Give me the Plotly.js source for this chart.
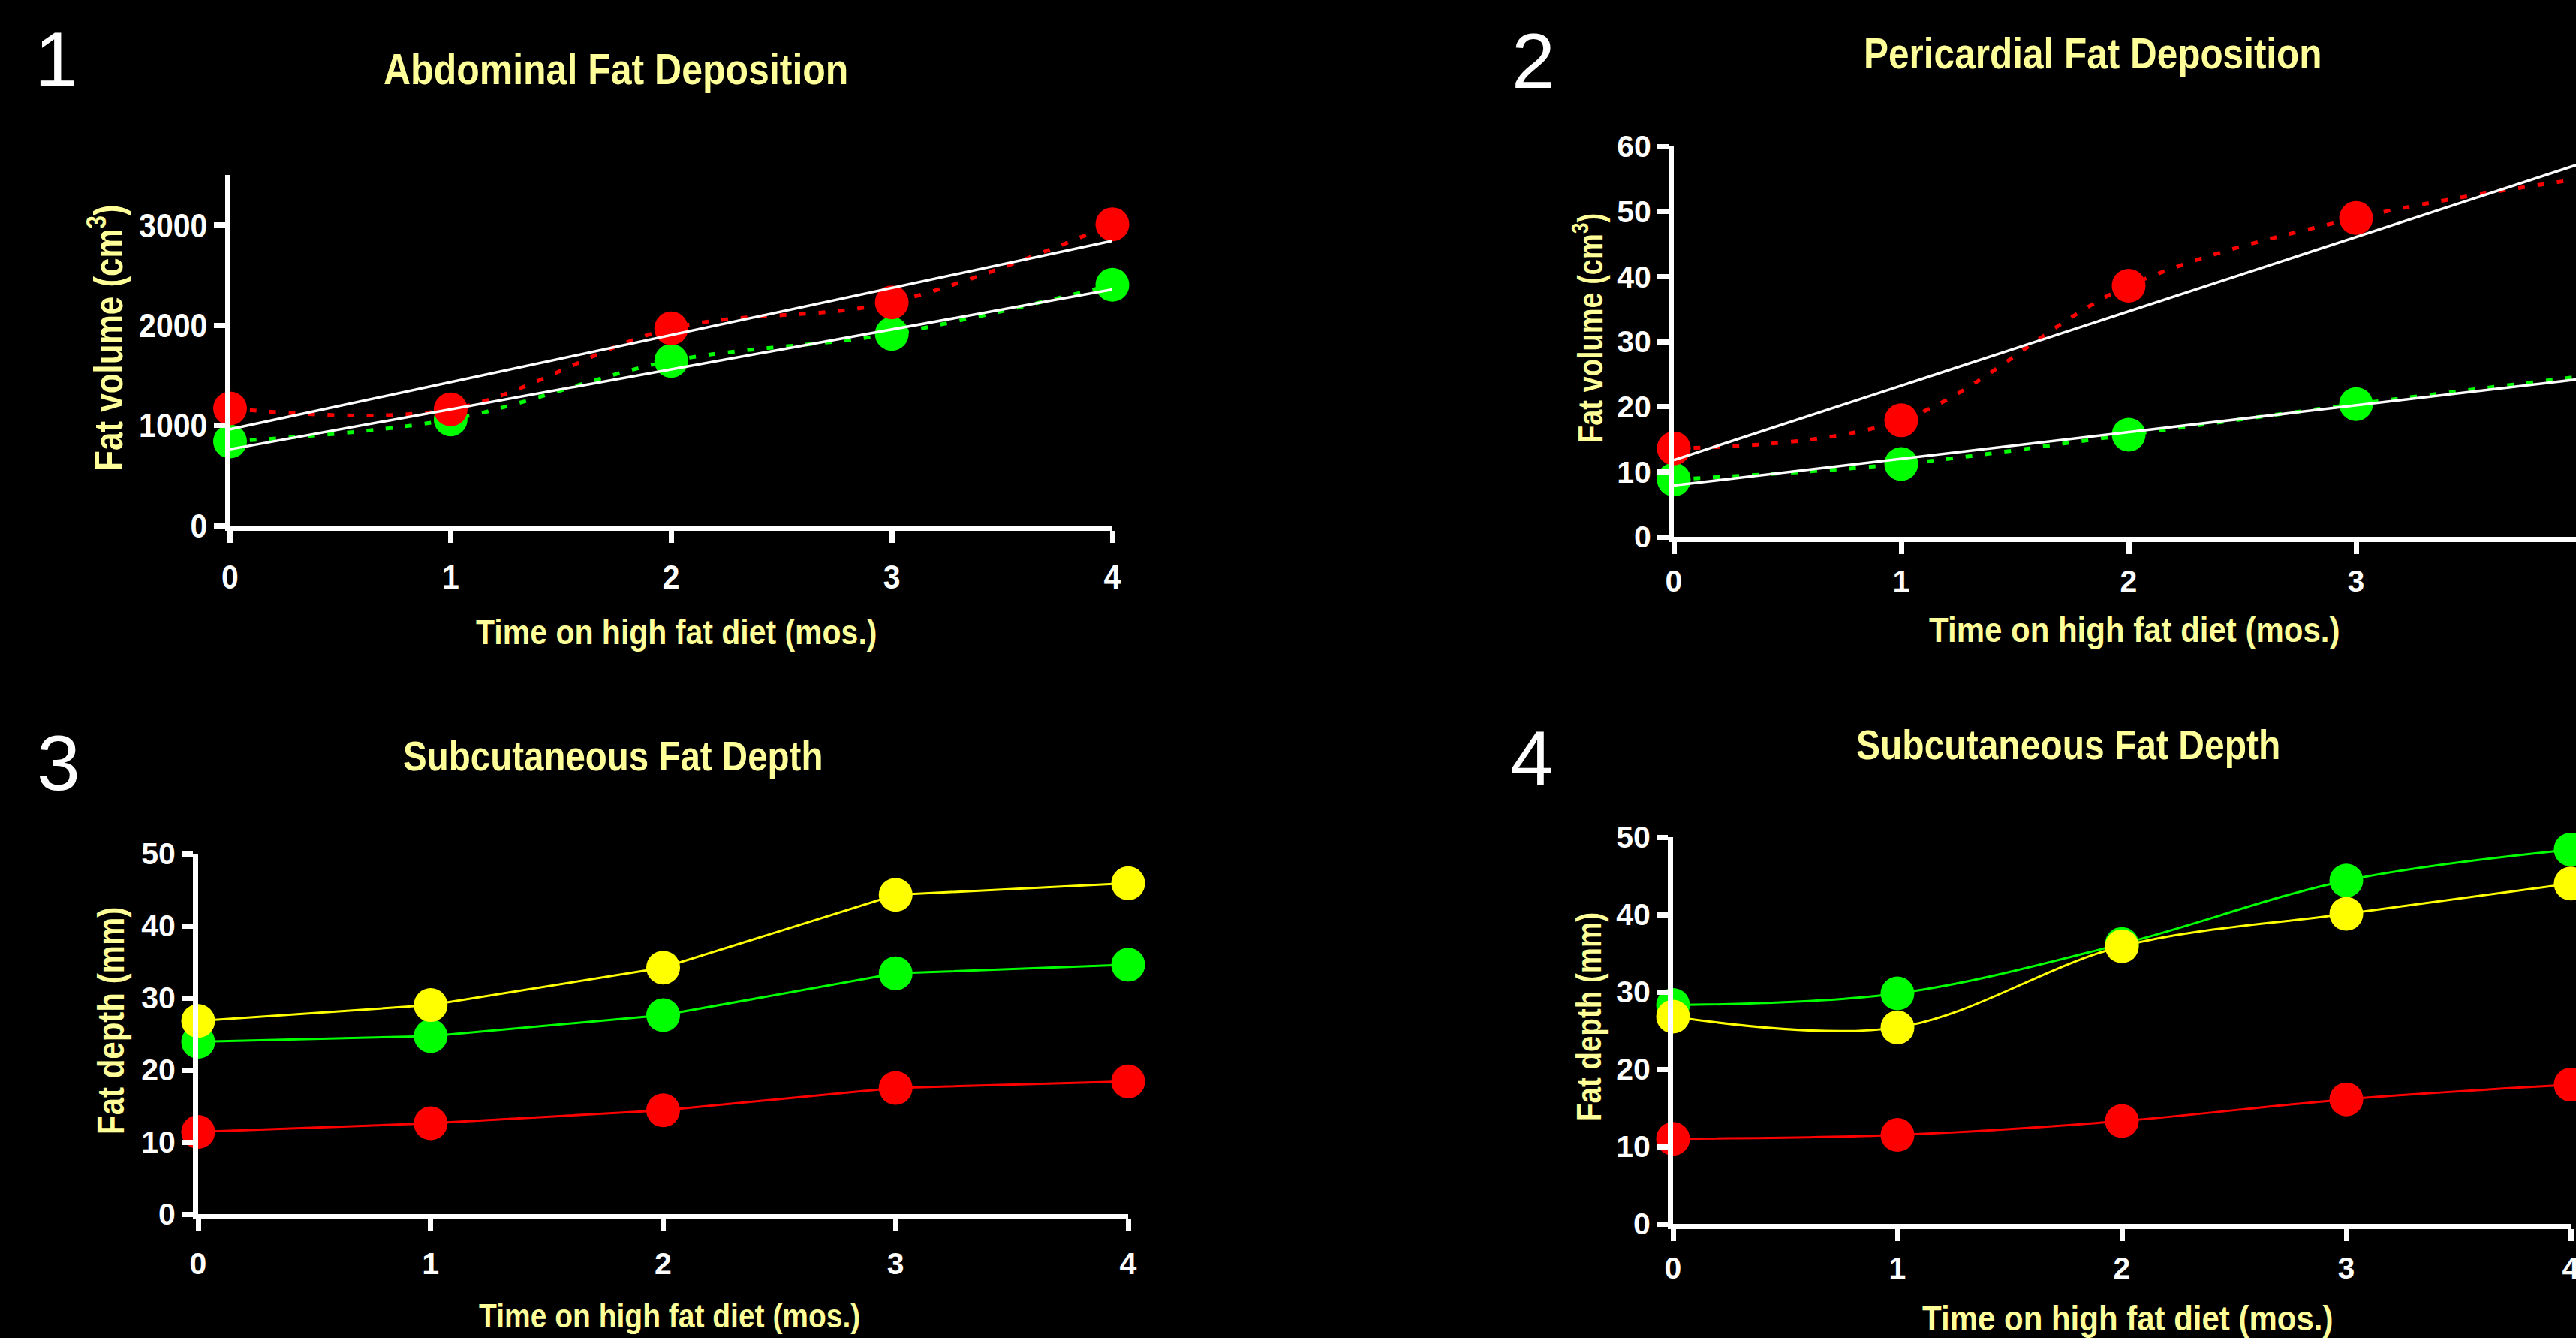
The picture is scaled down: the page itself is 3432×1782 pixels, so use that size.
<!DOCTYPE html>
<html>
<head>
<meta charset="utf-8">
<script src="https://cdn.plot.ly/plotly-3.0.1.min.js"></script>
<style>
html,body{margin:0;padding:0;background:#000;overflow:hidden}
#chart{width:3432px;height:1782px}
</style>
</head>
<body>
<div id="chart"></div>
<script>
// ---------------- DATA ----------------
const months = [0, 1, 2, 3, 4];
const monthLabels = ['0', '1', '2', '3', '4'];
const fitMonths = [0, 4];

// Panel 1 – Abdominal fat deposition (cm^3)
const abdominalRed = [1170, 1160, 1970, 2230, 3010];
const abdominalGreen = [840, 1060, 1645, 1915, 2405];
const abdominalRedFit = [962, 2845];
const abdominalGreenFit = [762, 2358];

// Panel 2 – Pericardial fat deposition (cm^3)
const pericardialRed = [13.6, 17.9, 38.6, 49.0, 55.1];
const pericardialGreen = [8.8, 11.2, 15.7, 20.4, 24.7];
const pericardialRedFit = [11.8, 57.5];
const pericardialGreenFit = [7.9, 24.3];

// Panel 3 – Subcutaneous fat depth (mm)
const subcut3Yellow = [26.8, 29.0, 34.2, 44.3, 45.9];
const subcut3Green = [23.9, 24.7, 27.6, 33.4, 34.6];
const subcut3Red = [11.4, 12.6, 14.4, 17.5, 18.4];

// Panel 4 – Subcutaneous fat depth (mm)
const subcut4Green = [28.3, 29.8, 36.2, 44.4, 48.4];
const subcut4Yellow = [26.8, 25.4, 35.9, 40.1, 44.0];
const subcut4Red = [11.0, 11.5, 13.3, 16.1, 18.0];

const panelNumbers = ['1', '2', '3', '4'];
const panelTitles = ['Abdominal Fat Deposition', 'Pericardial Fat Deposition',
                     'Subcutaneous Fat Depth', 'Subcutaneous Fat Depth'];
const xTitle = 'Time on high fat diet (mos.)';
const yTitles = ['Fat volume (cm<sup>3</sup>)', 'Fat volume (cm<sup>3</sup>)',
                 'Fat depth (mm)', 'Fat depth (mm)'];

// ---------------- STYLE ----------------
const RED = '#ff0000', GREEN = '#00ff00', YELLOW = '#ffff00', WHITE = '#ffffff';
const PALE = '#ffff99';
const FONT = 'Arial, "Liberation Sans", Helvetica, sans-serif';
const MS = 45;
const DOTS = '9px,17px';

function dotted(x, y, color, xa, ya) {
  return {x, y, xaxis: xa, yaxis: ya, type: 'scatter', mode: 'lines+markers',
    line: {color, width: 5, dash: DOTS, shape: 'spline', smoothing: 1},
    marker: {color, size: MS, line: {width: 0}}, cliponaxis: false, hoverinfo: 'skip'};
}
function fit(x, y, xa, ya) {
  return {x, y, xaxis: xa, yaxis: ya, type: 'scatter', mode: 'lines',
    line: {color: WHITE, width: 3.5}, cliponaxis: false, hoverinfo: 'skip'};
}
function solid(x, y, color, shape, xa, ya) {
  return {x, y, xaxis: xa, yaxis: ya, type: 'scatter', mode: 'lines+markers',
    line: {color, width: 3, shape, smoothing: 1},
    marker: {color, size: MS, line: {width: 0}}, cliponaxis: false, hoverinfo: 'skip'};
}

const traces = [
  dotted(months, abdominalGreen, GREEN, 'x', 'y'),
  dotted(months, abdominalRed, RED, 'x', 'y'),
  fit(fitMonths, abdominalGreenFit, 'x', 'y'),
  fit(fitMonths, abdominalRedFit, 'x', 'y'),

  dotted(months, pericardialGreen, GREEN, 'x2', 'y2'),
  dotted(months, pericardialRed, RED, 'x2', 'y2'),
  fit(fitMonths, pericardialGreenFit, 'x2', 'y2'),
  fit(fitMonths, pericardialRedFit, 'x2', 'y2'),

  solid(months, subcut3Red, RED, 'linear', 'x3', 'y3'),
  solid(months, subcut3Green, GREEN, 'linear', 'x3', 'y3'),
  solid(months, subcut3Yellow, YELLOW, 'linear', 'x3', 'y3'),

  solid(months, subcut4Red, RED, 'spline', 'x4', 'y4'),
  solid(months, subcut4Green, GREEN, 'spline', 'x4', 'y4'),
  solid(months, subcut4Yellow, YELLOW, 'spline', 'x4', 'y4'),
];

const W = 3432, H = 1782;
const px = v => v / W;
const py = v => 1 - v / H;

function xAxis(domain, range, anchor, standoff) {
  return {domain, range, anchor, tickvals: months, ticktext: monthLabels,
    showline: true, linecolor: WHITE, linewidth: 7,
    ticks: 'outside', ticklen: 16, tickwidth: 7, tickcolor: WHITE,
    ticklabelstandoff: standoff, ticklabeloverflow: 'allow',
    showgrid: false, zeroline: false, fixedrange: true,
    tickfont: {family: FONT, size: 41, color: WHITE, weight: 'bold'}};
}
function yAxis(domain, range, dtick, anchor, standoff) {
  return {domain, range, anchor, tickmode: 'linear', tick0: 0, dtick,
    showline: true, linecolor: WHITE, linewidth: 7,
    ticks: 'outside', ticklen: 15, tickwidth: 7, tickcolor: WHITE,
    ticklabelstandoff: standoff, ticklabeloverflow: 'allow',
    showgrid: false, zeroline: false, fixedrange: true,
    tickfont: {family: FONT, size: 41, color: WHITE, weight: 'bold'}};
}

// annotation spec: [text, xpx, ypx, size, color, weight, angle, stretch]
const annSpecs = [
  [panelNumbers[0], 75, 79, 104, WHITE, 'normal', 0, 1],
  [panelNumbers[1], 2043, 81, 104, WHITE, 'normal', 0, 1],
  [panelNumbers[2], 78, 1016, 104, WHITE, 'normal', 0, 1],
  [panelNumbers[3], 2041, 1010, 104, WHITE, 'normal', 0, 1],
  [panelTitles[0], 820, 92, 50, PALE, 'bold', 0, 1.15],
  [panelTitles[1], 2788, 71, 49.5, PALE, 'bold', 0, 1.15],
  [panelTitles[2], 816, 1007, 47.5, PALE, 'bold', 0, 1.15],
  [panelTitles[3], 2755, 993, 48, PALE, 'bold', 0, 1.15],
  [xTitle, 901, 842, 41, PALE, 'bold', 0, 1.12],
  [xTitle, 2844, 838, 42, PALE, 'bold', 0, 1.12],
  [xTitle, 892, 1752, 39, PALE, 'bold', 0, 1.12],
  [xTitle, 2835, 1755, 42, PALE, 'bold', 0, 1.12],
  [yTitles[0], 140, 450, 44, PALE, 'bold', -90, 1.2],
  [yTitles[1], 2116, 437, 38, PALE, 'bold', -90, 1.2],
  [yTitles[2], 147, 1360, 42, PALE, 'bold', -90, 1.2],
  [yTitles[3], 2116, 1354, 38.5, PALE, 'bold', -90, 1.2],
];
const annotations = annSpecs.map(s => ({
  text: s[0], x: px(s[1]), y: py(s[2]), xref: 'paper', yref: 'paper',
  xanchor: 'center', yanchor: 'middle', showarrow: false, textangle: s[6],
  font: {family: FONT, size: s[3], color: s[4], weight: s[5]}
}));

const layout = {
  width: W, height: H,
  margin: {l: 0, r: 0, t: 0, b: 0, pad: 0},
  paper_bgcolor: '#000000', plot_bgcolor: '#000000',
  showlegend: false,
  xaxis:  xAxis([px(306.5), px(1482)], [0, 4], 'y', 10),
  yaxis:  yAxis([py(700), py(233.3)], [0, 3500], 1000, 'x', 0),
  xaxis2: xAxis([px(2230), 1], [0, (3432 - 2230) / 303], 'y2', 1),
  yaxis2: yAxis([py(715), py(195)], [0, 60], 10, 'x2', 0),
  xaxis3: xAxis([px(264), px(1503)], [0, 4], 'y3', 8),
  yaxis3: yAxis([py(1617), py(1137)], [0, 50], 10, 'x3', 0),
  xaxis4: xAxis([px(2229), px(3425)], [0, 4], 'y4', 1),
  yaxis4: yAxis([py(1630), py(1115)], [0, 50], 10, 'x4', 0),
  annotations
};

function stretch(el, k) {
  if (!el || !k || k === 1) return;
  const bb = el.getBBox();
  const cx = bb.x + bb.width / 2, cy = bb.y + bb.height / 2;
  const prev = el.getAttribute('transform') || '';
  el.setAttribute('transform',
    prev + ' translate(' + cx + ' ' + cy + ') scale(1 ' + k + ') translate(' + (-cx) + ' ' + (-cy) + ')');
}

Plotly.newPlot('chart', traces, layout, {staticPlot: true, displayModeBar: false}).then(gd => {
  gd.querySelectorAll('g.annotation').forEach(g => {
    const i = +g.getAttribute('data-index');
    stretch(g.querySelector('text.annotation-text'), annSpecs[i] ? annSpecs[i][7] : 1);
  });
  gd.querySelectorAll('g.xtick text, g.ytick text').forEach(t => stretch(t, 1.1));
});
</script>
</body>
</html>
